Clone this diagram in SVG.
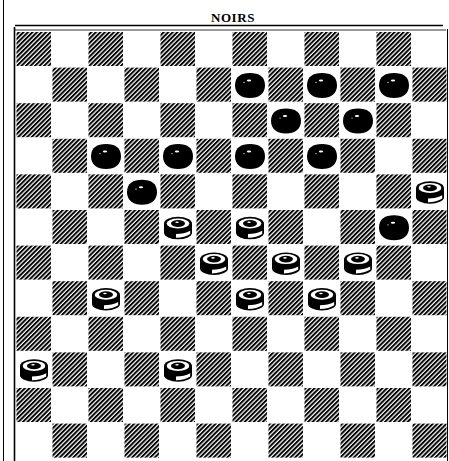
<svg xmlns="http://www.w3.org/2000/svg" xmlns:xlink="http://www.w3.org/1999/xlink" width="449" height="461" viewBox="0 0 449 461">
<style>
.dk{fill:url(#hatch)}
.ln{stroke:#000;fill:none}
.title{font-family:"Liberation Serif",serif;font-weight:bold;font-size:13px;letter-spacing:0.6px}
</style>
<defs>
<pattern id="hatch" patternUnits="userSpaceOnUse" width="3.2" height="3.2" patternTransform="rotate(45)">
<rect x="0" y="0" width="1.95" height="3.2" fill="#000"/>
</pattern>
<g id="bp">
<path d="M-15,0 C-15,-9 -9,-12.5 0,-12.5 C9,-12.5 15,-9 15,0 C15,8 9,12.5 0,12.5 C-9,12.5 -15,8 -15,0 Z" fill="#000"/>
<ellipse cx="-1" cy="-5" rx="2.2" ry="1" fill="#fff"/>
<circle cx="-6" cy="-3" r="0.6" fill="#fff"/>
</g>
<g id="wp">
<path d="M-14,-4 L-14,5 A14,6.5 0 0 0 14,5 L14,-4 Z" fill="#000"/>
<ellipse cx="0" cy="-4" rx="14" ry="7" fill="#000"/>
<ellipse cx="0" cy="-4.3" rx="11.3" ry="5" fill="#fff"/>
<ellipse cx="0" cy="-4.3" rx="7" ry="3.4" fill="#000"/>
<ellipse cx="-1" cy="-5.5" rx="1.8" ry="0.8" fill="#fff"/>
<path d="M-2,6.3 Q6,6.2 12.2,3 L12.2,6.2 Q7,9.8 -2,10 Z" fill="#fff"/>
</g>
</defs>
<rect width="449" height="461" fill="#fff"/>
<text class="title" x="233" y="22" text-anchor="middle">NOIRS</text>
<g id="frame">
<line class="ln" x1="3.5" y1="0" x2="3.5" y2="461" stroke-width="1"/>
<line class="ln" x1="14.5" y1="27" x2="14.5" y2="461" stroke-width="1.6"/>
<line class="ln" x1="15" y1="25.5" x2="443" y2="25.5" stroke-width="1.4"/>
<line class="ln" x1="15" y1="30" x2="446" y2="30" stroke-width="0.8"/>
<line class="ln" x1="447.5" y1="29" x2="447.5" y2="461" stroke-width="1"/>
</g>
<g id="board">
<rect class="dk" x="16.5" y="32" width="34.5" height="34"/><rect class="dk" x="88.5" y="32" width="34.5" height="34"/><rect class="dk" x="160.5" y="32" width="34.5" height="34"/><rect class="dk" x="232.5" y="32" width="34.5" height="34"/><rect class="dk" x="304.5" y="32" width="34.5" height="34"/><rect class="dk" x="376.5" y="32" width="34.5" height="34"/>
<rect class="dk" x="52.5" y="67.6" width="34.5" height="34"/><rect class="dk" x="124.5" y="67.6" width="34.5" height="34"/><rect class="dk" x="196.5" y="67.6" width="34.5" height="34"/><rect class="dk" x="268.5" y="67.6" width="34.5" height="34"/><rect class="dk" x="340.5" y="67.6" width="34.5" height="34"/><rect class="dk" x="412.5" y="67.6" width="34" height="34"/>
<rect class="dk" x="16.5" y="103.2" width="34.5" height="34"/><rect class="dk" x="88.5" y="103.2" width="34.5" height="34"/><rect class="dk" x="160.5" y="103.2" width="34.5" height="34"/><rect class="dk" x="232.5" y="103.2" width="34.5" height="34"/><rect class="dk" x="304.5" y="103.2" width="34.5" height="34"/><rect class="dk" x="376.5" y="103.2" width="34.5" height="34"/>
<rect class="dk" x="52.5" y="138.8" width="34.5" height="34"/><rect class="dk" x="124.5" y="138.8" width="34.5" height="34"/><rect class="dk" x="196.5" y="138.8" width="34.5" height="34"/><rect class="dk" x="268.5" y="138.8" width="34.5" height="34"/><rect class="dk" x="340.5" y="138.8" width="34.5" height="34"/><rect class="dk" x="412.5" y="138.8" width="34" height="34"/>
<rect class="dk" x="16.5" y="174.4" width="34.5" height="34"/><rect class="dk" x="88.5" y="174.4" width="34.5" height="34"/><rect class="dk" x="160.5" y="174.4" width="34.5" height="34"/><rect class="dk" x="232.5" y="174.4" width="34.5" height="34"/><rect class="dk" x="304.5" y="174.4" width="34.5" height="34"/><rect class="dk" x="376.5" y="174.4" width="34.5" height="34"/>
<rect class="dk" x="52.5" y="210" width="34.5" height="34"/><rect class="dk" x="124.5" y="210" width="34.5" height="34"/><rect class="dk" x="196.5" y="210" width="34.5" height="34"/><rect class="dk" x="268.5" y="210" width="34.5" height="34"/><rect class="dk" x="340.5" y="210" width="34.5" height="34"/><rect class="dk" x="412.5" y="210" width="34" height="34"/>
<rect class="dk" x="16.5" y="245.6" width="34.5" height="34"/><rect class="dk" x="88.5" y="245.6" width="34.5" height="34"/><rect class="dk" x="160.5" y="245.6" width="34.5" height="34"/><rect class="dk" x="232.5" y="245.6" width="34.5" height="34"/><rect class="dk" x="304.5" y="245.6" width="34.5" height="34"/><rect class="dk" x="376.5" y="245.6" width="34.5" height="34"/>
<rect class="dk" x="52.5" y="281.2" width="34.5" height="34"/><rect class="dk" x="124.5" y="281.2" width="34.5" height="34"/><rect class="dk" x="196.5" y="281.2" width="34.5" height="34"/><rect class="dk" x="268.5" y="281.2" width="34.5" height="34"/><rect class="dk" x="340.5" y="281.2" width="34.5" height="34"/><rect class="dk" x="412.5" y="281.2" width="34" height="34"/>
<rect class="dk" x="16.5" y="316.8" width="34.5" height="34"/><rect class="dk" x="88.5" y="316.8" width="34.5" height="34"/><rect class="dk" x="160.5" y="316.8" width="34.5" height="34"/><rect class="dk" x="232.5" y="316.8" width="34.5" height="34"/><rect class="dk" x="304.5" y="316.8" width="34.5" height="34"/><rect class="dk" x="376.5" y="316.8" width="34.5" height="34"/>
<rect class="dk" x="52.5" y="352.4" width="34.5" height="34"/><rect class="dk" x="124.5" y="352.4" width="34.5" height="34"/><rect class="dk" x="196.5" y="352.4" width="34.5" height="34"/><rect class="dk" x="268.5" y="352.4" width="34.5" height="34"/><rect class="dk" x="340.5" y="352.4" width="34.5" height="34"/><rect class="dk" x="412.5" y="352.4" width="34" height="34"/>
<rect class="dk" x="16.5" y="388" width="34.5" height="34"/><rect class="dk" x="88.5" y="388" width="34.5" height="34"/><rect class="dk" x="160.5" y="388" width="34.5" height="34"/><rect class="dk" x="232.5" y="388" width="34.5" height="34"/><rect class="dk" x="304.5" y="388" width="34.5" height="34"/><rect class="dk" x="376.5" y="388" width="34.5" height="34"/>
<rect class="dk" x="52.5" y="423.6" width="34.5" height="34"/><rect class="dk" x="124.5" y="423.6" width="34.5" height="34"/><rect class="dk" x="196.5" y="423.6" width="34.5" height="34"/><rect class="dk" x="268.5" y="423.6" width="34.5" height="34"/><rect class="dk" x="340.5" y="423.6" width="34.5" height="34"/><rect class="dk" x="412.5" y="423.6" width="34" height="34"/>
</g>
<g id="black-pieces">
<use xlink:href="#bp" x="250" y="85.4"/>
<use xlink:href="#bp" x="322" y="85.4"/>
<use xlink:href="#bp" x="394" y="85.4"/>
<use xlink:href="#bp" x="286" y="121"/>
<use xlink:href="#bp" x="358" y="121"/>
<use xlink:href="#bp" x="106" y="156.6"/>
<use xlink:href="#bp" x="178" y="156.6"/>
<use xlink:href="#bp" x="250" y="156.6"/>
<use xlink:href="#bp" x="322" y="156.6"/>
<use xlink:href="#bp" x="142" y="192.2"/>
<use xlink:href="#bp" x="394" y="227.8"/>
</g>
<g id="white-pieces">
<use xlink:href="#wp" x="430" y="192.2"/>
<use xlink:href="#wp" x="178" y="227.8"/>
<use xlink:href="#wp" x="250" y="227.8"/>
<use xlink:href="#wp" x="214" y="263.4"/>
<use xlink:href="#wp" x="286" y="263.4"/>
<use xlink:href="#wp" x="358" y="263.4"/>
<use xlink:href="#wp" x="106" y="299"/>
<use xlink:href="#wp" x="250" y="299"/>
<use xlink:href="#wp" x="322" y="299"/>
<use xlink:href="#wp" x="34" y="370.2"/>
<use xlink:href="#wp" x="178" y="370.2"/>
</g>
</svg>
